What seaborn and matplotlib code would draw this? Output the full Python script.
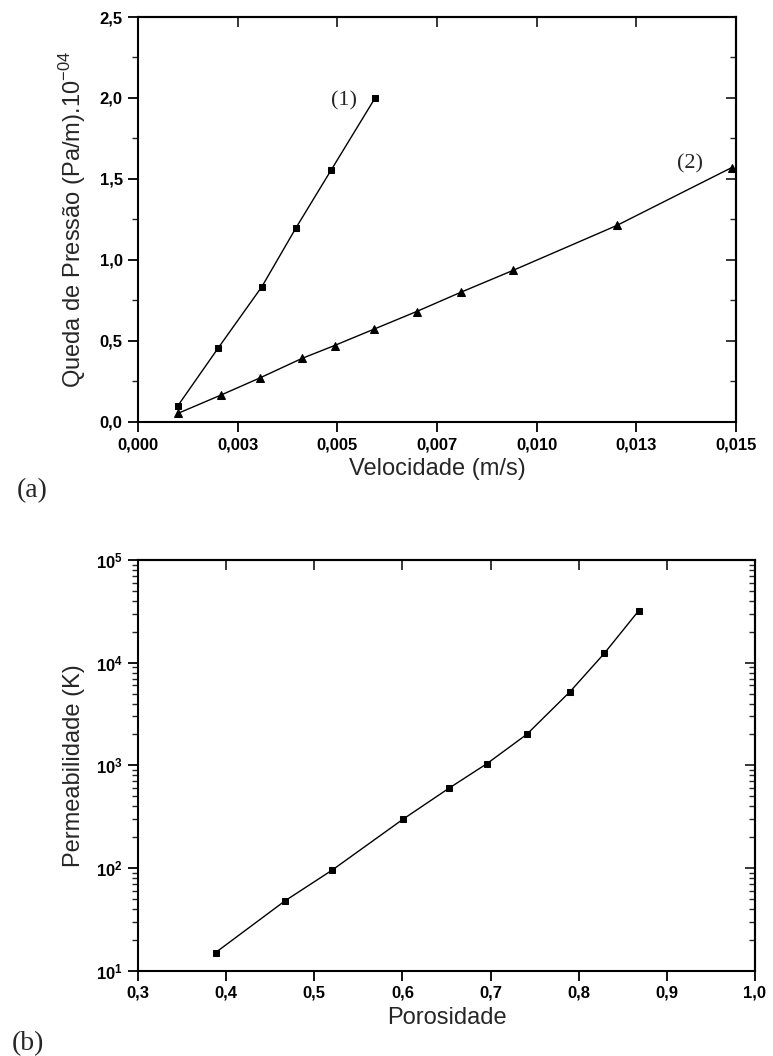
import numpy as np
import pandas as pd
import seaborn as sns
import matplotlib
matplotlib.use('Agg')
import matplotlib.pyplot as plt
from matplotlib.ticker import FixedLocator, FuncFormatter, LogLocator, NullFormatter

sns.set_style('ticks')
plt.rcParams['font.family'] = ['Liberation Sans', 'DejaVu Sans']

# (a) queda de pressao x velocidade
vel_1 = [0.00100, 0.00201, 0.00311, 0.00396, 0.00484, 0.00595]
dp_1 = [0.10, 0.456, 0.836, 1.197, 1.553, 2.001]
vel_2 = [0.00101, 0.00208, 0.00305, 0.00411, 0.00493, 0.00592,
         0.00699, 0.00811, 0.00941, 0.01201, 0.01489]
dp_2 = [0.054, 0.166, 0.271, 0.392, 0.472, 0.573,
        0.682, 0.802, 0.936, 1.213, 1.570]
xticks_a = [0.0, 0.0025, 0.005, 0.0075, 0.010, 0.0125, 0.015]
xlabels_a = ['0,000', '0,003', '0,005', '0,007', '0,010', '0,013', '0,015']
yticks_a = [0.0, 0.5, 1.0, 1.5, 2.0, 2.5]

# (b) permeabilidade x porosidade
poros = [0.388, 0.467, 0.520, 0.601, 0.653, 0.696, 0.741, 0.790, 0.829, 0.868]
perm = [15, 48, 95, 300, 600, 1040, 2000, 5200, 12300, 32000]
xticks_b = [0.3, 0.4, 0.5, 0.6, 0.7, 0.8, 0.9, 1.0]

df1 = pd.DataFrame({'v': vel_1, 'dp': dp_1})
df2 = pd.DataFrame({'v': vel_2, 'dp': dp_2})
dfb = pd.DataFrame({'e': poros, 'k': perm})

fig = plt.figure(figsize=(7.73, 10.56), dpi=100)
ax1 = fig.add_axes([0.1785, 0.6004, 0.7736, 0.3835])
ax2 = fig.add_axes([0.1785, 0.0808, 0.7982, 0.3889])

sns.lineplot(data=df1, x='v', y='dp', ax=ax1, color='black', lw=1.0,
             marker='s', markersize=5, markeredgecolor='black')
sns.lineplot(data=df2, x='v', y='dp', ax=ax1, color='black', lw=1.0,
             marker='^', markersize=6, markeredgecolor='black')
ax1.text(0.00517, 1.983, '(1)', family='Liberation Serif', fontsize=16,
         ha='center', va='center')
ax1.text(0.01385, 1.593, '(2)', family='Liberation Serif', fontsize=16,
         ha='center', va='center')

ax1.set_xlim(0, 0.015)
ax1.set_ylim(0, 2.5)
ax1.xaxis.set_major_locator(FixedLocator(xticks_a))
ax1.set_xticklabels(xlabels_a)
ax1.yaxis.set_major_locator(FixedLocator(yticks_a))
ax1.yaxis.set_minor_locator(FixedLocator(np.arange(0, 2.51, 0.25)))
ax1.yaxis.set_major_formatter(FuncFormatter(lambda v, p: f'{v:.1f}'.replace('.', ',')))
ax1.set_xlabel('Velocidade (m/s)', fontsize=17, labelpad=4)
ax1.set_ylabel('Queda de Pressão (Pa/m).10$^{\\mathregular{-04}}$', fontsize=17, labelpad=8)

sns.lineplot(data=dfb, x='e', y='k', ax=ax2, color='black', lw=1.0,
             marker='s', markersize=5, markeredgecolor='black')
ax2.set_yscale('log')
ax2.set_xlim(0.3, 1.0)
ax2.set_ylim(10, 1e5)
ax2.xaxis.set_major_locator(FixedLocator(xticks_b))
ax2.xaxis.set_major_formatter(FuncFormatter(lambda v, p: f'{v:.1f}'.replace('.', ',')))
ax2.yaxis.set_major_locator(LogLocator(base=10, numticks=10))
ax2.yaxis.set_minor_locator(LogLocator(base=10, subs=np.arange(2, 10), numticks=10))
ax2.yaxis.set_minor_formatter(NullFormatter())
ax2.set_xlabel('Porosidade', fontsize=17, labelpad=4)
ax2.set_ylabel('Permeabilidade (K)', fontsize=17, labelpad=8)

for ax in (ax1, ax2):
    for s in ax.spines.values():
        s.set_visible(True)
        s.set_linewidth(1.5)
        s.set_color('black')
    ax.tick_params(which='major', direction='out', length=7, width=1.3,
                   labelsize=12, colors='black', pad=4)
    ax.tick_params(which='minor', direction='out', length=4.5, width=1.0)
    ax.tick_params(top=True, right=True, which='both')
    for lab in ax.get_xticklabels() + ax.get_yticklabels():
        lab.set_fontweight('bold')
    # ticks internos em cima e a direita
    ax.tick_params(axis='x', which='both', top=True)
    ax.grid(False)

# reproduz ticks para dentro no topo/direita usando eixos secundarios
for ax in (ax1, ax2):
    ax.tick_params(top=False, right=False, which='both')
    sx = ax.secondary_xaxis('top')
    sx.set_xticks(ax.get_xticks())
    sx.tick_params(direction='in', length=7, width=1.3, labeltop=False)
    sx.xaxis.set_minor_locator(FixedLocator([]))
    sy = ax.secondary_yaxis('right')
    sy.tick_params(which='major', direction='in', length=7, width=1.3, labelright=False)
    sy.tick_params(which='minor', direction='in', length=4.5, width=1.0)
    if ax is ax1:
        sy.set_yticks(yticks_a)
        sy.yaxis.set_minor_locator(FixedLocator(np.arange(0, 2.51, 0.25)))
    else:
        sy.set_yscale('log')
        sy.yaxis.set_major_locator(LogLocator(base=10, numticks=10))
        sy.yaxis.set_minor_locator(LogLocator(base=10, subs=np.arange(2, 10), numticks=10))
        sy.yaxis.set_minor_formatter(NullFormatter())
    sx.spines['top'].set_linewidth(1.5)
    sy.spines['right'].set_linewidth(1.5)

fig.text(0.042, 1 - 491 / 1056, '(a)', family='Liberation Serif', fontsize=20,
         ha='center', va='center')
fig.text(0.036, 1 - 1044 / 1056, '(b)', family='Liberation Serif', fontsize=20,
         ha='center', va='center')

fig.savefig('out.png', dpi=100)
